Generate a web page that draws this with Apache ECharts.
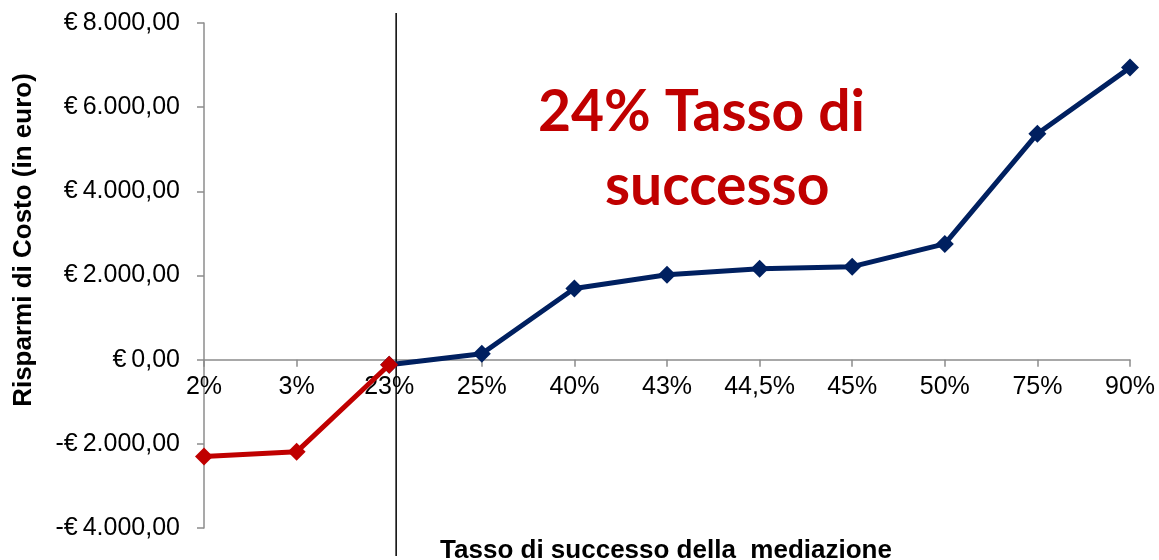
<!DOCTYPE html>
<html>
<head>
<meta charset="utf-8">
<script src="https://cdn.jsdelivr.net/npm/echarts@6/dist/echarts.min.js"></script>
<style>
  html, body { margin: 0; padding: 0; background: #fff; }
  #chart { width: 1159px; height: 560px; }
</style>
</head>
<body>
<div id="chart"></div>
<script>
// tasso di successo (categorie) e risparmi in euro
const categories = ['2%', '3%', '23%', '25%', '40%', '43%', '44,5%', '45%', '50%', '75%', '90%']
const savings = [-2300, -2190, -120, 140, 1690, 2020, 2160, 2210, 2750, 5370, 6940]
const breakEvenIndex = 2 // the red segment ends at 23%
const yTicks = { min: -4000, max: 8000, interval: 2000 }
// vertical marker just right of 23% (category index units on a hidden value axis)
const markerX = [2.075]

const redData = savings.map((v, i) => (i <= breakEvenIndex ? v : '-'))
const blueData = savings.map((v, i) => (i >= breakEvenIndex ? v : '-'))

const fmtEuro = (v) => {
  const abs = Math.abs(v)
  const s = abs.toFixed(2).replace('.', ',').replace(/\B(?=(\d{3})+(?!\d))/g, '.')
  return (v < 0 ? '-' : '') + '€\u2009' + s
}

const chart = echarts.init(document.getElementById('chart'))

const axisGrey = '#8c8c8c'
const labelFont = 'Liberation Sans, Arial, sans-serif'

chart.setOption({
  animation: false,
  grid: { left: 204, right: 29, top: 23, bottom: 32, containLabel: false, outerBoundsMode: 'none' },
  xAxis: [
    {
      type: 'category',
      data: categories,
      boundaryGap: false,
      axisLine: { onZero: false, lineStyle: { color: axisGrey, width: 1.5 } },
      axisTick: { show: true, length: 7, lineStyle: { color: axisGrey, width: 1.5 } },
      axisLabel: { color: '#000', fontSize: 25, fontFamily: labelFont, margin: 15, interval: 0 },
      splitLine: { show: false }
    },
    {
      type: 'value',
      show: false,
      min: 0,
      max: categories.length - 1
    }
  ],
  yAxis: {
    type: 'value',
    min: yTicks.min,
    max: yTicks.max,
    interval: yTicks.interval,
    axisLine: { show: true, lineStyle: { color: axisGrey, width: 1.5 } },
    axisTick: { show: true, length: 7, lineStyle: { color: axisGrey, width: 1.5 } },
    axisLabel: { color: '#000', fontSize: 25, fontFamily: labelFont, margin: 24, formatter: fmtEuro },
    splitLine: { show: false }
  },
  series: [
    {
      name: 'soglia',
      type: 'custom',
      xAxisIndex: 1,
      silent: true,
      clip: false,
      data: markerX.map((x) => [x, 0]),
      renderItem: (params, api) => {
        const x = api.coord([api.value(0), 0])[0]
        const cs = params.coordSys
        return {
          type: 'line',
          shape: { x1: x, y1: cs.y - 10, x2: x, y2: cs.y + cs.height + 28 },
          style: { stroke: '#000', lineWidth: 1.5 }
        }
      },
      z: 1
    },
    {
      name: 'sotto',
      type: 'line',
      data: redData,
      symbol: 'diamond',
      symbolSize: 18,
      lineStyle: { color: '#c00000', width: 5 },
      itemStyle: { color: '#c00000' },
      z: 3
    },
    {
      name: 'sopra',
      type: 'line',
      data: blueData,
      symbol: 'diamond',
      symbolSize: 18,
      lineStyle: { color: '#002060', width: 5 },
      itemStyle: { color: '#002060' },
      z: 2
    }
  ],
  graphic: [
    {
      type: 'text',
      left: 538,
      top: 84,
      style: {
        text: '24% Tasso di',
        fill: '#c00000',
        font: 'bold 57px Lato, "Open Sans", sans-serif'
      }
    },
    {
      type: 'text',
      left: 605,
      top: 158,
      style: {
        text: 'successo',
        fill: '#c00000',
        font: 'bold 57px Lato, "Open Sans", sans-serif'
      }
    },
    {
      type: 'text',
      x: 24,
      y: 240,
      rotation: Math.PI / 2,
      style: {
        text: 'Risparmi di Costo (in euro)',
        fill: '#000',
        font: 'bold 26px "Liberation Sans", Arial, sans-serif',
        textAlign: 'center',
        textVerticalAlign: 'middle'
      }
    },
    {
      type: 'text',
      x: 666,
      y: 551,
      style: {
        text: 'Tasso di successo della  mediazione',
        fill: '#000',
        font: 'bold 26px "Liberation Sans", Arial, sans-serif',
        textAlign: 'center',
        textVerticalAlign: 'middle'
      }
    }
  ]
})

// move the category axis (line, ticks, labels) up to the zero level of the value axis
const yZero = chart.convertToPixel({ yAxisIndex: 0 }, 0)
const yBottom = chart.convertToPixel({ yAxisIndex: 0 }, yTicks.min)
chart.setOption({ xAxis: [{ offset: yZero - yBottom }, {}] })
</script>
</body>
</html>
